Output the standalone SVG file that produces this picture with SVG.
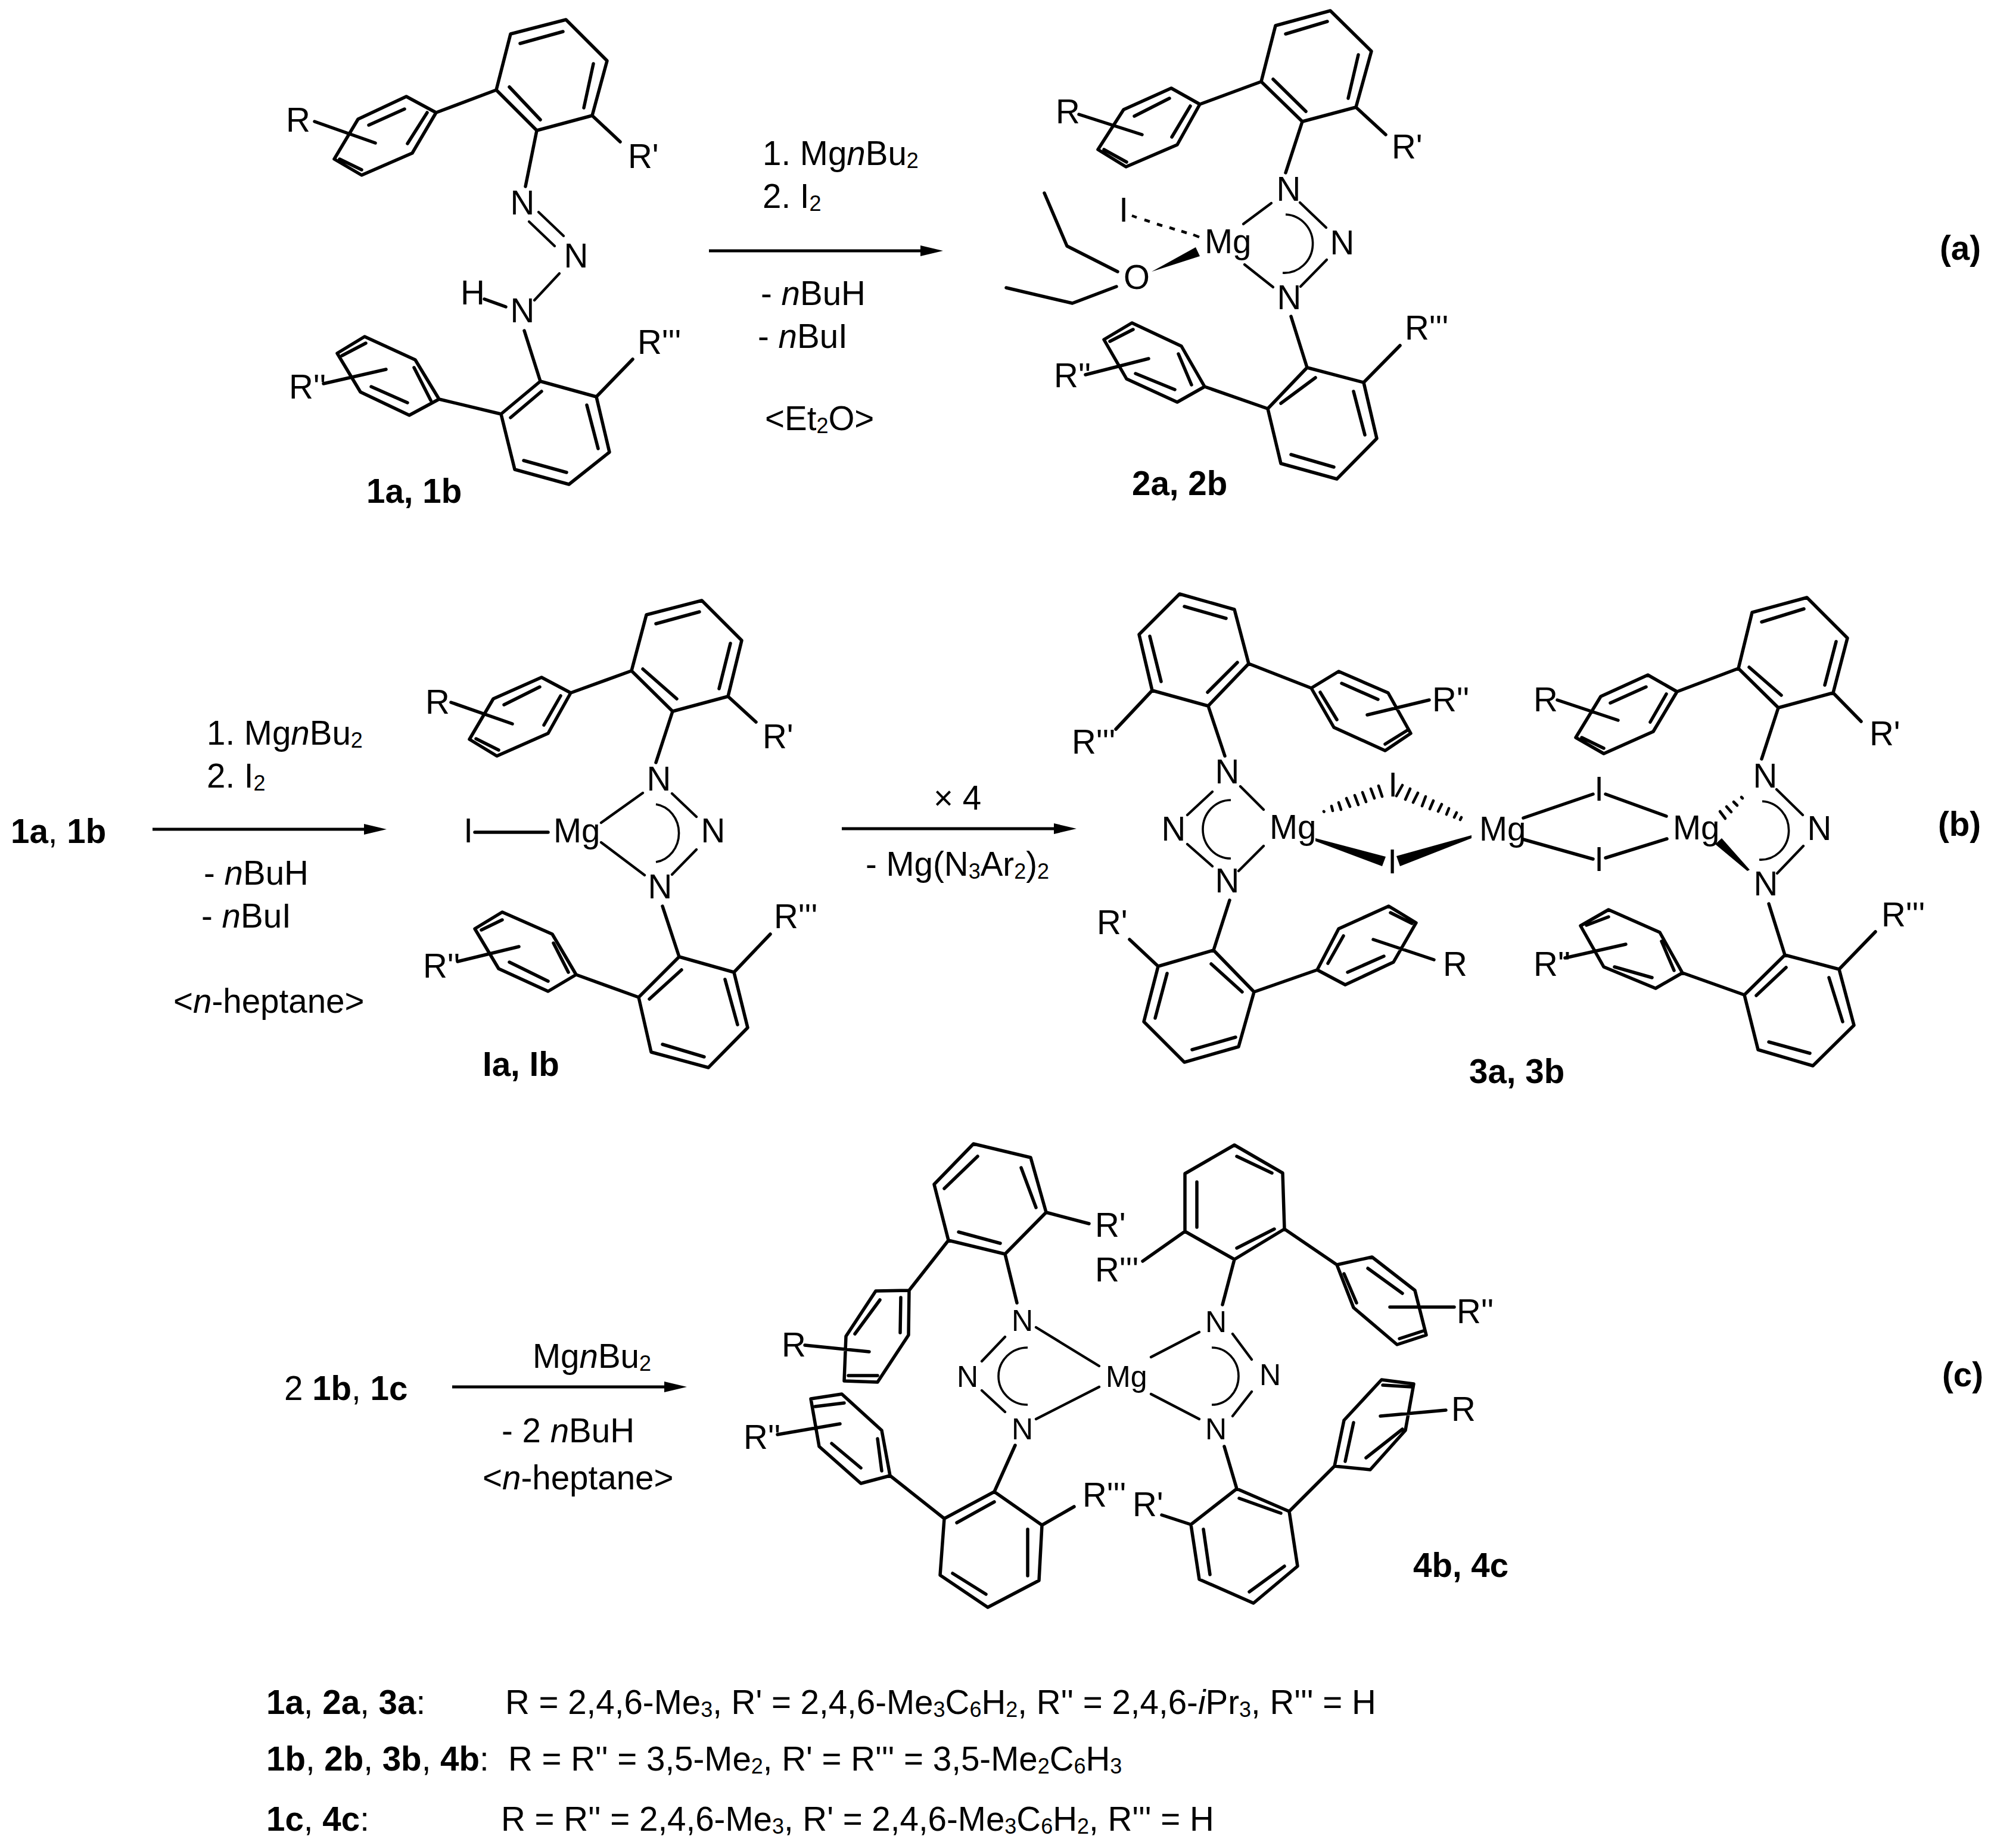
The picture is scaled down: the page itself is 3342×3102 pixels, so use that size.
<svg xmlns="http://www.w3.org/2000/svg" width="3342" height="3102" viewBox="0 0 3342 3102">
<style>
text{font-family:"Liberation Sans",Arial,sans-serif;font-size:56.500px;fill:#000}
.m{text-anchor:middle}
.n4{font-size:50px}
.b{font-weight:700}
.i{font-style:italic}
.s{font-size:36px;baseline-shift:-5px}
.bd{fill:none;stroke:#000;stroke-width:5.500;stroke-linejoin:round;stroke-linecap:round}
.t{fill:none;stroke:#000;stroke-width:4.300;stroke-linecap:round}
.c{fill:none;stroke:#000;stroke-width:3.600}
.h{fill:none;stroke:#000;stroke-width:4.600;stroke-linecap:round}
.d{fill:none;stroke:#000;stroke-width:4.500}
.w{fill:#000;stroke:none}
.a{fill:none;stroke:#000;stroke-width:5}
</style>
<defs><marker id="ah" markerUnits="userSpaceOnUse" markerWidth="40" markerHeight="20" viewBox="0 0 40 20" refX="18" refY="10" orient="auto"><path d="M0 1L38 10L0 19Z" fill="#000"/></marker></defs>
<rect width="3342" height="3102" fill="#fff"/>
<g id="connectors">
<path class="a" marker-end="url(#ah)" d="M1190 421H1563"/>
<path class="a" marker-end="url(#ah)" d="M256 1392H629"/>
<path class="a" marker-end="url(#ah)" d="M1413 1391H1787"/>
<path class="a" marker-end="url(#ah)" d="M759 2328H1133"/>
</g>
<g id="compound-1">
<path class="bd" d="M950 33L1019 102L994 194L901 219L833 151L857 57ZM945 53L873 73M996 107L980 181M855 146L907 201M833 151L732 189M732 189L682 162L601 200L561 267L607 294L692 257ZM679 183L619 210M717 189L684 241M570 267L607 285M528 204L630 240M994 194L1041 238M901 219L882 313M813 502L849 515M880 555L907 640M907 640L1001 666L1023 759L955 813L864 788L841 695ZM985 680L1004 753M879 773L951 793M857 701L909 657M1001 666L1062 603M841 695L737 670M737 670L697 604L612 565L566 593L605 658L687 697ZM695 617L723 672M623 649L684 676M574 597L614 576M543 644L648 620"/>
<path class="t" d="M904 356L946 396M888 372L931 413M939 459L897 504"/>
<text x="480" y="221">R</text><text x="1054" y="282">R'</text><text class="m" x="877" y="360">N</text><text class="m" x="967" y="449">N</text><text class="m" x="877" y="541">N</text><text x="773" y="511">H</text><text x="1070" y="594">R'''</text><text x="485" y="669">R''</text>
<text class="b" x="615" y="844">1a, 1b</text>
</g>
<g id="reagents-a">
<text x="1280" y="277">1. Mg<tspan class="i">n</tspan>Bu<tspan class="s">2</tspan></text>
<text x="1280" y="349">2. I<tspan class="s">2</tspan></text>
<text x="1277" y="512">- <tspan class="i">n</tspan>BuH</text>
<text x="1272" y="584">- <tspan class="i">n</tspan>BuI</text>
<text x="1284" y="722">&lt;Et<tspan class="s">2</tspan>O&gt;</text>
</g>
<g id="compound-2">
<path class="bd" d="M2233 18L2302 86L2276 180L2186 204L2117 137L2141 43ZM2228 36L2158 57M2280 92L2263 165M2137 133L2192 187M2117 137L2014 175M2014 175L1966 148L1886 184L1843 251L1890 280L1976 243ZM1963 165L1904 195M1998 178L1967 230M1853 251L1891 272M1811 192L1917 226M2276 180L2326 226M2186 204L2158 290M2167 531L2194 617M1753 324L1791 413L1876 456M1689 483L1800 509L1874 481M2194 617L2289 642L2311 736L2244 804L2150 778L2128 686ZM2272 657L2291 730M2167 763L2239 784M2150 677L2208 634M2289 642L2350 580M2128 686L2022 649M2022 649L1983 581L1900 542L1853 570L1891 636L1976 675ZM1978 594L2000 646M1906 627L1972 654M1863 573L1902 553M1822 629L1928 602"/>
<path class="t" d="M2087 376L2134 341M2182 340L2226 382M2227 436L2183 481M2089 444L2137 482"/>
<path class="c" d="M2158 360A48 49 0 0 1 2153 458"/>
<path class="d" d="M1900 362L1908 365M1921 369L1930 372M1942 376L1951 379M1963 382L1972 385M1983 388L1992 391M2003 394L2013 398"/>
<path class="w" d="M1933 456L2007 415L2014 430Z"/>
<text x="1772" y="207">R</text><text x="2336" y="266">R'</text><text class="m" x="2163" y="337">N</text><text class="m" x="2253" y="427">N</text><text class="m" x="2164" y="519">N</text><text x="2022" y="425">Mg</text><text class="m" x="1886" y="372">I</text><text class="m" x="1908" y="485">O</text><text x="2358" y="570">R'''</text><text x="1769" y="650">R''</text>
<text class="b" x="1900" y="831">2a, 2b</text>
</g>
<text id="label-a" class="b" x="3256" y="436">(a)</text>
<text id="sm-b" x="18" y="1415"><tspan class="b">1a</tspan>, <tspan class="b">1b</tspan></text>
<g id="reagents-b">
<text x="347" y="1250">1. Mg<tspan class="i">n</tspan>Bu<tspan class="s">2</tspan></text>
<text x="347" y="1322">2. I<tspan class="s">2</tspan></text>
<text x="342" y="1485">- <tspan class="i">n</tspan>BuH</text>
<text x="338" y="1557">- <tspan class="i">n</tspan>BuI</text>
<text x="291" y="1700">&lt;<tspan class="i">n</tspan>-heptane&gt;</text>
</g>
<g id="compound-I">
<path class="bd" d="M1178 1008L1245 1075L1222 1169L1129 1194L1060 1126L1085 1032ZM1174 1027L1101 1047M1226 1080L1207 1156M1079 1123L1136 1173M1060 1126L958 1163M958 1163L909 1137L828 1173L788 1241L834 1269L920 1231ZM906 1153L846 1183M941 1168L913 1217M799 1240L837 1259M757 1179L860 1215M1222 1169L1269 1212M1129 1194L1101 1280M1112 1521L1140 1606M797 1397L920 1397M1140 1606L1232 1632L1255 1725L1189 1792L1093 1766L1072 1674ZM1217 1644L1238 1720M1112 1753L1182 1774M1090 1677L1144 1628M1232 1632L1293 1568M1072 1674L967 1636M967 1636L927 1568L843 1531L797 1559L837 1626L920 1664ZM929 1583L954 1632M855 1615L920 1647M808 1561L843 1544M768 1614L871 1589"/>
<path class="t" d="M1128 1332L1169 1371M1169 1426L1128 1468M1009 1381L1079 1331M1009 1414L1082 1469"/>
<path class="c" d="M1101 1350A45 49 0 0 1 1101 1447"/>
<text x="714" y="1198">R</text><text x="1280" y="1256">R'</text><text class="m" x="1106" y="1327">N</text><text class="m" x="1197" y="1414">N</text><text class="m" x="1108" y="1508">N</text><text x="929" y="1414">Mg</text><text class="m" x="786" y="1414">I</text><text x="1299" y="1558">R'''</text><text x="710" y="1641">R''</text>
<text class="b" x="810" y="1806">Ia, Ib</text>
</g>
<g id="reagents-b2">
<text x="1567" y="1359">× 4</text>
<text x="1453" y="1470">- Mg(N<tspan class="s">3</tspan>Ar<tspan class="s">2</tspan>)<tspan class="s">2</tspan></text>
</g>
<g id="compound-3">
<path class="bd" d="M1980 997L2072 1023L2096 1114L2028 1185L1934 1159L1912 1065ZM1988 1018L2058 1038M1930 1068L1949 1144M2077 1112L2027 1162M2096 1114L2201 1155M2201 1155L2247 1127L2330 1163L2368 1231L2325 1260L2239 1221ZM2252 1147L2313 1174M2216 1162L2244 1208M2362 1226L2325 1249M2295 1200L2399 1175M1934 1159L1873 1224M2028 1185L2056 1269M2064 1511L2037 1595M2037 1595L2105 1665L2079 1757L1988 1783L1920 1715L1944 1622ZM2033 1618L2085 1665M2074 1741L2001 1762M1939 1709L1959 1634M1944 1622L1896 1577M2105 1665L2211 1628M2211 1628L2258 1653L2339 1615L2377 1549L2331 1521L2247 1559ZM2262 1632L2323 1605M2229 1617L2255 1571M2334 1532L2370 1550M2305 1577L2407 1611M2557 1373L2674 1333M2695 1333L2797 1370M2557 1409L2674 1442M2695 1440L2798 1408M2957 1274L2985 1188M3033 1003L3101 1071L3077 1163L2985 1188L2918 1122L2941 1028ZM3028 1022L2957 1044M3082 1077L3063 1150M2936 1120L2990 1167M3077 1163L3124 1211M2918 1122L2815 1161M2815 1161L2766 1133L2687 1169L2645 1238L2692 1265L2775 1228ZM2763 1153L2703 1180M2797 1165L2770 1212M2655 1238L2692 1256M2614 1175L2716 1209M2969 1517L2996 1603M2996 1603L3087 1627L3112 1721L3043 1789L2951 1762L2928 1670ZM3070 1641L3093 1715M2969 1749L3038 1768M2948 1671L2998 1624M3087 1627L3148 1564M2928 1670L2824 1633M2824 1633L2786 1565L2700 1527L2653 1554L2692 1623L2779 1659ZM2789 1580L2810 1629M2710 1623L2773 1641M2663 1553L2700 1539M2627 1608L2729 1585"/>
<path class="t" d="M2082 1320L2121 1359M2035 1329L1993 1368M1993 1417L2035 1454M2079 1462L2121 1420M2982 1325L3026 1368M3027 1420L2983 1466"/>
<path class="c" d="M2066 1343A47 49 0 0 0 2066 1441M2958 1345A47 49 0 0 1 2953 1443"/>
<path class="h" d="M2222 1362L2222.500 1362.500M2235 1353L2237 1361M2247 1347L2251 1359M2260 1340L2266 1354M2274 1335L2280 1351M2287 1330L2293 1346M2301 1324L2307 1340M2314 1319L2320 1337M2453 1372L2451 1376M2445 1364L2441 1372M2432 1357L2428 1367M2420 1350L2414 1362M2406 1344L2400 1358M2393 1337L2387 1353M2380 1331L2372 1347M2367 1324L2359 1342M2354 1318L2344 1336"/>
<path class="h" d="M2887 1362L2896 1374M2898 1354L2906 1363M2910 1346L2916 1352M2923 1338L2925 1340"/>
<path class="w" d="M2208 1407L2326 1438L2320 1454L2208 1412ZM2470 1402L2344 1437L2350 1454L2470 1407ZM2879 1417L2890 1407L2937 1460L2933 1462Z"/>
<text x="2404" y="1194">R''</text><text x="1799" y="1265">R'''</text><text class="m" x="2060" y="1315">N</text><text class="m" x="1970" y="1411">N</text><text class="m" x="2060" y="1498">N</text><text x="2131" y="1408">Mg</text><text x="1841" y="1568">R'</text><text x="2422" y="1638">R</text><text x="2483" y="1411">Mg</text><text class="m" x="2338" y="1337">I</text><text class="m" x="2337" y="1466">I</text><text class="m" x="2684" y="1344">I</text><text class="m" x="2684" y="1462">I</text><text x="2808" y="1409">Mg</text><text class="m" x="2963" y="1322">N</text><text class="m" x="3054" y="1410">N</text><text class="m" x="2964" y="1503">N</text><text x="3138" y="1251">R'</text><text x="2574" y="1194">R</text><text x="3158" y="1555">R'''</text><text x="2574" y="1638">R''</text>
<text class="b" x="2466" y="1818">3a, 3b</text>
</g>
<text id="label-b" class="b" x="3253" y="1403">(b)</text>
<text id="sm-c" x="477" y="2350">2 <tspan class="b">1b</tspan>, <tspan class="b">1c</tspan></text>
<g id="reagents-c">
<text x="894" y="2296">Mg<tspan class="i">n</tspan>Bu<tspan class="s">2</tspan></text>
<text x="842" y="2421">- 2 <tspan class="i">n</tspan>BuH</text>
<text x="810" y="2500">&lt;<tspan class="i">n</tspan>-heptane&gt;</text>
</g>
<g id="compound-4">
<path class="bd" d="M1634 1920L1730 1943L1756 2035L1687 2105L1592 2082L1568 1988ZM1641 1941L1585 1995M1714 1960L1739 2027M1609 2068L1679 2087M1756 2035L1828 2054M1592 2082L1526 2166M1526 2166L1470 2167L1420 2243L1417 2318L1473 2320L1525 2241ZM1477 2182L1435 2239M1512 2178L1511 2237M1424 2309L1473 2309M1351 2258L1459 2269M1687 2105L1707 2187M1704 2426L1669 2504M1669 2504L1749 2560L1744 2653L1658 2698L1578 2644L1585 2549ZM1669 2521L1606 2556M1725 2567L1725 2645M1599 2641L1655 2676M1749 2560L1803 2529M1585 2549L1494 2477M1494 2477L1480 2401L1413 2340L1361 2348L1375 2428L1445 2490ZM1473 2415L1480 2469M1396 2423L1445 2464M1368 2361L1417 2355M1305 2408L1410 2390M2052 2190L2072 2114M2072 2114L2156 2063L2153 1969L2072 1922L1989 1970L1989 2067ZM2076 2095L2139 2063M2135 1969L2076 1941M2009 1984L2009 2060M1989 2067L1918 2117M2156 2063L2244 2123M2244 2123L2303 2110L2375 2166L2394 2241L2345 2257L2272 2195ZM2296 2129L2354 2171M2256 2138L2277 2187M2349 2247L2389 2234M2333 2194L2441 2194M2055 2428L2076 2499M2076 2499L2164 2537L2178 2629L2104 2691L2013 2651L1999 2559ZM2080 2515L2150 2540M2156 2629L2097 2672M2020 2567L2031 2643M1999 2559L1950 2543M2164 2537L2240 2461M2240 2461L2300 2467L2359 2401L2373 2323L2319 2316L2256 2384ZM2258 2453L2272 2388M2293 2447L2354 2399M2321 2325L2370 2328M2317 2377L2427 2367"/>
<path class="t" d="M1739 2228L1845 2293M1687 2244L1648 2285M1648 2334L1687 2370M1739 2382L1845 2328M1932 2278L2013 2236M1932 2340L2013 2382M2069 2239L2101 2282M2101 2336L2069 2377"/>
<path class="c" d="M1725 2262A49 48 0 0 0 1725 2358M2034 2262A45 48 0 0 1 2034 2358"/>
<text x="1838" y="2076">R'</text><text x="1312" y="2277">R</text><text class="m n4" x="1716" y="2234">N</text><text class="m n4" x="1624" y="2328">N</text><text class="m n4" x="1716" y="2416">N</text><text class="n4" x="1856" y="2328">Mg</text><text x="1817" y="2529">R'''</text><text x="1248" y="2432">R''</text><text class="m n4" x="2041" y="2236">N</text><text class="m n4" x="2132" y="2325">N</text><text class="m n4" x="2041" y="2416">N</text><text x="1838" y="2151">R'''</text><text x="2445" y="2221">R''</text><text x="1901" y="2545">R'</text><text x="2436" y="2385">R</text>
<text class="b" x="2372" y="2647">4b, 4c</text>
</g>
<text id="label-c" class="b" x="3260" y="2327">(c)</text>
<g id="legend">
<text x="447" y="2877"><tspan class="b">1a</tspan>, <tspan class="b">2a</tspan>, <tspan class="b">3a</tspan>:</text>
<text x="848" y="2877">R = 2,4,6-Me<tspan class="s">3</tspan>, R' = 2,4,6-Me<tspan class="s">3</tspan>C<tspan class="s">6</tspan>H<tspan class="s">2</tspan>, R'' = 2,4,6-<tspan class="i">i</tspan>Pr<tspan class="s">3</tspan>, R''' = H</text>
<text x="447" y="2972"><tspan class="b">1b</tspan>, <tspan class="b">2b</tspan>, <tspan class="b">3b</tspan>, <tspan class="b">4b</tspan>:</text>
<text x="853" y="2972">R = R'' = 3,5-Me<tspan class="s">2</tspan>, R' = R''' = 3,5-Me<tspan class="s">2</tspan>C<tspan class="s">6</tspan>H<tspan class="s">3</tspan></text>
<text x="447" y="3073"><tspan class="b">1c</tspan>, <tspan class="b">4c</tspan>:</text>
<text x="841" y="3073">R = R'' = 2,4,6-Me<tspan class="s">3</tspan>, R' = 2,4,6-Me<tspan class="s">3</tspan>C<tspan class="s">6</tspan>H<tspan class="s">2</tspan>, R''' = H</text>
</g>
</svg>
